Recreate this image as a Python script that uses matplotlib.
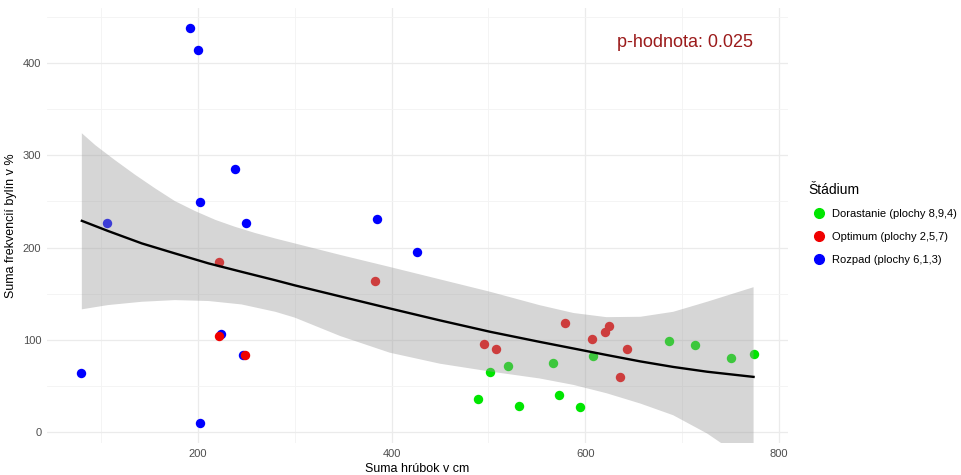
import matplotlib
matplotlib.use("Agg")
import matplotlib.pyplot as plt
from matplotlib.lines import Line2D

plt.rcParams['font.family'] = ['Liberation Sans', 'DejaVu Sans']

# Stadium: Dorastanie (plochy 8,9,4)
dor_x = [489, 502, 520, 532, 567, 573, 595, 608, 687, 714, 751, 774]
dor_y = [35.5, 65, 72, 28.5, 75, 40, 27.5, 82, 99, 94, 80, 84]
# Stadium: Optimum (plochy 2,5,7)
opt_x = [221.5, 383, 221.5, 249, 496, 507.5, 579, 607, 620, 625, 643.5, 636]
opt_y = [184.5, 164, 104, 83.5, 95.5, 90, 118, 101, 108.5, 115, 90, 59.5]
# Stadium: Rozpad (plochy 6,1,3)
roz_x = [192, 200, 238, 202, 250, 106, 384.5, 426.5, 79, 202, 224, 246]
roz_y = [438, 414, 285, 249, 227, 227, 231, 195, 63.5, 10, 106.5, 83.5]

# vyhladena krivka
fit_x = [80, 107, 142, 176, 211, 245, 280, 300, 347, 398, 450, 502, 553, 588,
         622, 657, 691, 726, 774]
fit_y = [229, 218, 204.5, 193.7, 182.8, 173.7, 164.5, 159, 147, 134, 121,
         108.6, 97.7, 90.5, 83.5, 76.5, 70.5, 65.3, 59.7]
# horna hranica intervalu spolahlivosti
hi_x = [80, 94, 114, 135, 156, 176, 197, 218, 238, 259, 280, 300, 347, 398, 450,
        502, 553, 588, 622, 657, 691, 726, 774]
hi_y = [324, 311, 295, 279, 264, 250.5, 239.6, 230, 222.6, 215.8, 209.8, 204.5, 192,
        179, 165.5, 152, 137.5, 129, 124.5, 124.9, 130.3, 141.2, 157]
# dolna hranica intervalu spolahlivosti
lo_x = [80, 107, 142, 176, 211, 245, 280, 300, 347, 398, 450, 502, 553, 588, 622,
        657, 691, 726, 774]
lo_y = [133, 137.6, 141.2, 143, 142, 138.3, 130.3, 124, 104, 86, 74, 65.5, 58,
        51, 42, 30.8, 18.1, -1.7, -36]

stadia = ["Dorastanie (plochy 8,9,4)", "Optimum (plochy 2,5,7)", "Rozpad (plochy 6,1,3)"]
farby = ["#00e600", "#f00000", "#0000ff"]
p_text = "p-hodnota: 0.025"

fig = plt.figure(figsize=(9.61, 4.75), dpi=100)
ax = fig.add_axes([0.0489, 0.0674, 0.771, 0.916])

# body
ax.scatter(dor_x, dor_y, s=46, color=farby[0], linewidths=0, zorder=2)
ax.scatter(roz_x, roz_y, s=46, color=farby[2], linewidths=0, zorder=2)
ax.scatter(opt_x, opt_y, s=46, color=farby[1], linewidths=0, zorder=2)

# pas spolahlivosti ide cez body, ciara navrch
ax.fill(hi_x + lo_x[::-1], hi_y + lo_y[::-1], color="#999999", alpha=0.4,
        linewidth=0, zorder=3)
ax.plot(fit_x, fit_y, color="black", lw=1.7, zorder=4)

ax.text(703, 422, p_text, color="#9b1b1b", fontsize=13, ha="center", va="center")

ax.set_xlim(44, 809.5)
ax.set_ylim(-12, 460)
ax.set_xticks([200, 400, 600, 800])
ax.set_yticks([0, 100, 200, 300, 400])
ax.set_xticks([100, 300, 500, 700], minor=True)
ax.set_yticks([50, 150, 250, 350, 450], minor=True)
ax.grid(which="major", color="#ebebeb", lw=0.9)
ax.grid(which="minor", color="#f3f3f3", lw=0.6)
ax.set_axisbelow(True)
ax.tick_params(which="both", length=0, labelsize=8, labelcolor="#4d4d4d", pad=4)
for s in ax.spines.values():
    s.set_visible(False)

ax.set_xlabel("Suma hrúbok v cm", fontsize=9, labelpad=3)
ax.set_ylabel("Suma frekvencií bylín v %", fontsize=9, labelpad=4)

# legenda
fig.text(808 / 961, 1 - 190 / 475, "Štádium", fontsize=10, ha="left", va="center")
handles = [Line2D([], [], marker="o", ls="", color=c, markersize=7) for c in farby]
ax.legend(handles, stadia, loc="upper left",
          bbox_to_anchor=(0.835, 0.581), bbox_transform=fig.transFigure,
          frameon=False, fontsize=8, handletextpad=0.6, labelspacing=1.15,
          handlelength=1.2)

fig.savefig("out.png", dpi=100)
